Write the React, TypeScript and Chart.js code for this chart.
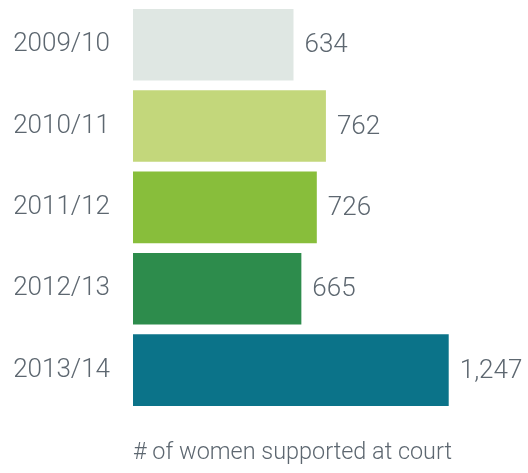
import React, { useEffect, useRef } from "react";
import { Chart, registerables } from "chart.js";

Chart.register(...registerables);

const categories = ["2009/10", "2010/11", "2011/12", "2012/13", "2013/14"];
const womenSupported = [634, 762, 726, 665, 1247];
const barColors = ["#dfe7e3", "#c3d77b", "#88be3b", "#2d8c4c", "#0b7389"];
const axisTitle = "# of women supported at court";

const textColor = "#5d6770";
const fontFamily = "Roboto, 'Liberation Sans', Arial, sans-serif";

const valueLabels = {
  id: "valueLabels",
  afterDatasetsDraw(chart: any) {
    const ctx = chart.ctx;
    const meta = chart.getDatasetMeta(0);
    ctx.save();
    ctx.fillStyle = textColor;
    ctx.font = `300 26px ${fontFamily}`;
    ctx.textAlign = "left";
    ctx.textBaseline = "middle";
    meta.data.forEach((bar: any, i: number) => {
      const v = chart.data.datasets[0].data[i] as number;
      ctx.fillText(v.toLocaleString("en-US"), bar.x + 11, bar.y + 1);
    });
    ctx.restore();
  },
};

export default function App() {
  const ref = useRef<HTMLCanvasElement | null>(null);

  useEffect(() => {
    if (!ref.current) return;
    const chart = new Chart(ref.current, {
      type: "bar",
      data: {
        labels: categories,
        datasets: [
          {
            data: womenSupported,
            backgroundColor: barColors,
            borderWidth: 0,
            categoryPercentage: 1,
            barPercentage: 0.88,
          },
        ],
      },
      options: {
        indexAxis: "y",
        animation: false,
        responsive: true,
        maintainAspectRatio: false,
        layout: { padding: { top: 4, right: 76, left: 0, bottom: 0 } },
        plugins: {
          legend: { display: false },
          tooltip: { enabled: false },
        },
        scales: {
          x: {
            min: 0,
            max: 1260,
            grid: { display: false, drawTicks: false },
            border: { display: false },
            ticks: { display: false },
            title: {
              display: true,
              text: axisTitle,
              color: textColor,
              font: { family: fontFamily, size: 23.5, weight: "300" },
              padding: { top: 28, bottom: 6 },
            },
          },
          y: {
            grid: { display: false, drawTicks: false },
            border: { display: false },
            ticks: {
              color: textColor,
              font: { family: fontFamily, size: 26, weight: "300" },
              padding: 23,
            },
            afterFit(scale: any) {
              scale.width = 133;
              scale.paddingTop = 0;
              scale.paddingBottom = 0;
            },
          },
        },
      },
      plugins: [valueLabels],
    });
    return () => chart.destroy();
  }, []);

  return (
    <div style={{ position: "absolute", left: 0, top: 0, width: 528, height: 473 }}>
      <canvas ref={ref} />
    </div>
  );
}
